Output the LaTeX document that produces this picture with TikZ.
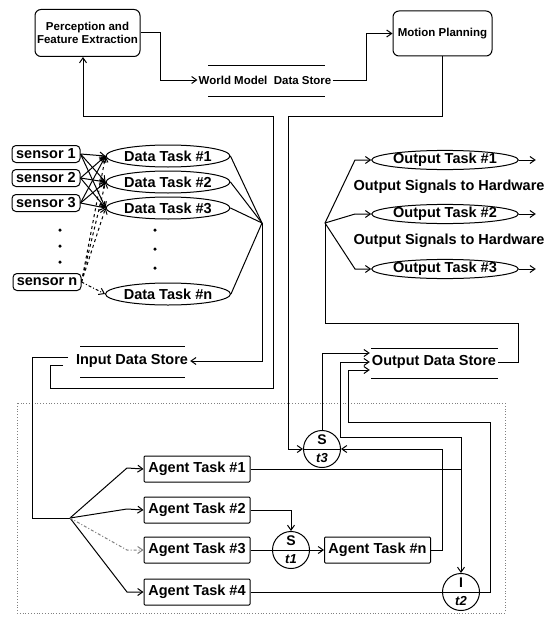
\documentclass[tikz,border=0pt]{standalone}
\usepackage{fontspec}
\setmainfont{Liberation Sans}
\usetikzlibrary{shapes.geometric,arrows.meta,calc}
\begin{document}
\begin{tikzpicture}[x=1pt,y=-1pt,
 ln/.style={line width=1pt},
 arr/.style={ln,-{Straight Barb[length=5pt,width=7pt]}},
 big/.style={font=\fontsize{14.5}{16}\selectfont\bfseries},
 small/.style={font=\fontsize{11.5}{13.5}\selectfont\bfseries},
 sensorbox/.style={draw,ln,rounded corners=4pt,minimum width=68pt,minimum height=17pt,inner sep=0pt,big},
 dtask/.style={draw,ln,ellipse,minimum width=102pt,minimum height=22pt,inner sep=0pt,big},
 otask/.style={draw,ln,ellipse,minimum width=130pt,minimum height=19pt,inner sep=0pt,big},
 agent/.style={draw,ln,rounded corners=1pt,minimum width=106pt,minimum height=26pt,inner sep=0pt,big},
 modbox/.style={draw,ln,rounded corners=6pt,inner sep=0pt,small,align=center},
 sync/.style={draw,ln,circle,minimum size=37pt,inner sep=0pt},
 ctop/.style={font=\fontsize{14}{15}\selectfont\bfseries,inner sep=0pt},
 cbot/.style={font=\fontsize{13}{14}\selectfont\bfseries\itshape,inner sep=0pt},
 store/.style={big,inner sep=2pt},
 dotpt/.style={circle,fill,inner sep=0pt,minimum size=3.5pt},
 bar/.style={ln}
]
\useasboundingbox (0,0) rectangle (554,618);
% top modules
\node[modbox,minimum width=105pt,minimum height=47pt] (perc) at (87.5,33) {Perception and\\Feature Extraction};
\node[modbox,minimum width=99pt,minimum height=45pt] (motion) at (442.5,33.5) {Motion Planning};
\node[small,inner sep=1pt] (wm) at (265,80) {World Model\ \ Data Store};
\draw[bar] (208,66) -- (325,66);
\draw[bar] (208,96) -- (325,96);
\draw[arr] (perc.east) -- ++(20,0) |- (wm.west);
\draw[arr] (wm.east) -- ++(34,0) |- (motion.west);
% sensors
\node[sensorbox] (s1) at (46,154) {sensor 1};
\node[sensorbox] (s2) at (46,178) {sensor 2};
\node[sensorbox] (s3) at (46,203) {sensor 3};
\node[sensorbox] (sn) at (47,282) {sensor n};
\node[dotpt] (sd1) at (60,230) {};
\node[dotpt] (sd2) at (60,246) {};
\node[dotpt] (sd3) at (60,262) {};
% data tasks
\node[dtask] (dt1) at (168,156) {Data Task \#1};
\node[dtask] (dt2) at (168,182) {Data Task \#2};
\node[dtask] (dt3) at (168,208) {Data Task \#3};
\node[dtask] (dtn) at (168,294) {Data Task \#n};
\node[dotpt] (dd1) at (155,230) {};
\node[dotpt] (dd2) at (155,249) {};
\node[dotpt] (dd3) at (155,268) {};
\foreach \s in {s1,s2,s3} \foreach \d in {dt1,dt2,dt3} \draw[arr] (\s.east) -- (\d.west);
\foreach \d in {dt1,dt2,dt3} \draw[arr,dashed] (sn.east) -- (\d.west);
\draw[arr,dash dot] (sn.east) -- (dtn.west);
\coordinate (dm) at (262,223);
\foreach \d in {dt1,dt2,dt3,dtn} \draw[ln] (\d.east) -- (dm);
% input data store
\node[store] (ids) at (132,361) {Input Data Store};
\draw[bar] (80,346) -- (185,346);
\draw[bar] (80,377) -- (185,377);
\draw[arr] (dm) |- (ids.east);
\coordinate (idu) at (68,357);
\coordinate (idl) at (63,365);
\draw[arr] (idl) -| (50,388) -| (273,116) -| ([xshift=-4.5pt]perc.south);
% output side
\node[otask] (ot1) at (445,160) {Output Task \#1};
\node[otask] (ot2) at (445,214) {Output Task \#2};
\node[otask] (ot3) at (445,269) {Output Task \#3};
\node[big] (lab1) at (449,187) {Output Signals to Hardware};
\node[big] (lab2) at (449,241) {Output Signals to Hardware};
\coordinate (om) at (325,223);
\foreach \o/\y in {ot1/160,ot2/214,ot3/269} {
  \draw[arr] (om) -- (355,\y) -- (\o.west);
  \draw[arr] (\o.east) -- ++(17,0);
}
\node[store] (ods) at (434,362) {Output Data Store};
\draw[bar] (371,348) -- (498,348);
\draw[bar] (371,378) -- (498,378);
\draw[ln] (ods.east) -| (518,323) -| (om);
% motion planning feedback
\node[sync] (st3) at (322,449) {};
\draw[arr] (motion.south) |- (288,116) |- (st3.west);
% agent region
\draw[dotted,line width=0.8pt,gray] (17,403) rectangle (505,613);
\node[agent] (a1) at (197,469) {Agent Task \#1};
\node[agent] (a2) at (197,510) {Agent Task \#2};
\node[agent] (a3) at (197,550) {Agent Task \#3};
\node[agent] (a4) at (197,592) {Agent Task \#4};
\node[agent] (an) at (377.5,550) {Agent Task \#n};
\node[sync] (st1) at (291,550) {};
\node[sync] (it2) at (461,592) {};
\node[ctop] (st3a) at (322,440) {S};
\node[cbot] (st3b) at (322,458) {t3};
\node[ctop] (st1a) at (291,541) {S};
\node[cbot] (st1b) at (291,559) {t1};
\node[ctop] (it2a) at (461,583) {I};
\node[cbot] (it2b) at (461,601) {t2};
\draw[ln] (st3.west) -- (st3.east);
\coordinate (fan) at (70,518);
\draw[ln] (idu) -| (32,518) -- (fan);
\foreach \a/\y in {a1/468,a2/509,a4/592} \draw[arr] (fan) -- (127,\y) -- (\a.west);
\draw[arr,dash dot,gray] (fan) -- (127,550) -- (a3.west);
\draw[arr] (a1.east) -| (it2.north);
\coordinate (j1) at (461,469);
\draw[arr] (j1) |- (340,437) |- (ods.west);
\draw[arr] (st3.north) |- ([yshift=9pt]ods.west);
\draw[arr] (a4.east) -| (490,422) -| (348,370) -- ([yshift=-8pt]ods.west);
\draw[arr] (a2.east) -| (st1.north);
\draw[arr] (a3.east) -- (an.west);
\draw[arr] (an.east) -| (442,449) -- (st3.east);
\end{tikzpicture}
\end{document}
